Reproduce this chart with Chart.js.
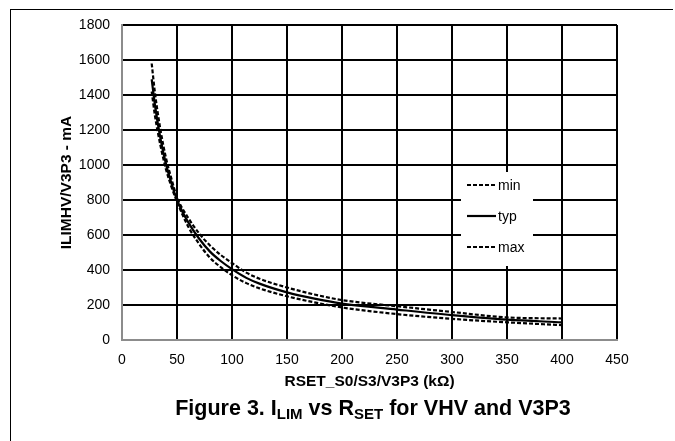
<!DOCTYPE html>
<html>
<head>
<meta charset="utf-8">
<script src="https://cdn.jsdelivr.net/npm/chart.js@4/dist/chart.umd.min.js"></script>
<style>
  body { margin: 0; background: #fff; }
  .wrap { position: relative; width: 675px; height: 441px; }
  .frame { position: absolute; left: 10px; top: 9px; right: 2px; bottom: 0; border-left: 1.5px solid #000; border-top: 1.5px solid #000; }
  .caption { position: absolute; left: 0; width: 746px; top: 396px; text-align: center; font: bold 21.5px "Liberation Sans", Arial, sans-serif; color: #000; }
  .caption sub { font-size: 15px; vertical-align: -4px; line-height: 0; }
  canvas { position: absolute; left: 0; top: 0; }
</style>
</head>
<body>
<div class="wrap">
  <div class="frame"></div>
  <canvas id="chart" width="675" height="441"></canvas>
  <div class="caption">Figure 3. I<sub>LIM</sub> vs R<sub>SET</sub> for VHV and V3P3</div>
</div>
<script>
// RSET (kOhm) and current limit (mA)
const rset = [27, 30, 35, 40, 45, 50, 60, 70, 80, 90, 100, 113, 125, 150, 175, 200, 250, 300, 350, 400];
const minVals = [1420, 1280, 1110, 975, 875, 790, 650, 550, 470, 415, 370, 325, 295, 250, 215, 186, 148, 121, 101, 85];
const typVals = [1490, 1340, 1150, 1005, 895, 800, 675, 580, 505, 450, 405, 355, 322, 272, 236, 208, 174, 142, 116, 101];
const maxVals = [1580, 1410, 1200, 1040, 920, 815, 700, 610, 540, 485, 440, 385, 350, 300, 260, 228, 193, 160, 129, 123];
const seriesNames = ['min', 'typ', 'max'];

const FONT = '"Liberation Sans", Arial, sans-serif';

function pts(ys) {
  return rset.map((x, i) => ({x: x, y: ys[i]}));
}

// legend box sitting inside the plot, like the excel one
const boxLegend = {
  id: 'boxLegend',
  afterDatasetsDraw(chart) {
    const ctx = chart.ctx;
    ctx.save();
    ctx.fillStyle = '#fff';
    ctx.fillRect(461, 172, 72, 94);
    const rows = [185, 216, 247];
    chart.data.datasets.forEach((ds, i) => {
      const y = rows[i];
      ctx.strokeStyle = '#000';
      ctx.lineWidth = ds.borderWidth;
      ctx.setLineDash(ds.borderDash || []);
      ctx.beginPath();
      ctx.moveTo(467, y);
      ctx.lineTo(496, y);
      ctx.stroke();
      ctx.setLineDash([]);
      ctx.fillStyle = '#000';
      ctx.font = '14px ' + FONT;
      ctx.textBaseline = 'middle';
      ctx.fillText(ds.label, 498, y + 1);
    });
    ctx.restore();
  }
};

const gridColor = c => (c.tick && c.tick.value === 0) ? '#8c8c8c' : '#000';
const plain = v => String(v);

new Chart(document.getElementById('chart'), {
  type: 'line',
  data: {
    datasets: [
      { label: seriesNames[0], data: pts(minVals), borderColor: '#000', borderWidth: 2.2, borderDash: [4, 2] },
      { label: seriesNames[1], data: pts(typVals), borderColor: '#000', borderWidth: 2.2 },
      { label: seriesNames[2], data: pts(maxVals), borderColor: '#000', borderWidth: 2.2, borderDash: [4, 2] }
    ]
  },
  options: {
    responsive: false,
    animation: false,
    layout: { padding: { left: 0, top: 25, right: 58, bottom: 0 } },
    elements: {
      point: { radius: 0 },
      line: { cubicInterpolationMode: 'monotone', fill: false }
    },
    scales: {
      x: {
        type: 'linear',
        min: 0,
        max: 450,
        afterFit: s => { s.height = 101; },
        ticks: { stepSize: 50, padding: 12, color: '#000', font: { family: FONT, size: 14 }, callback: plain },
        grid: { color: gridColor, lineWidth: 2, drawTicks: false },
        border: { color: '#8c8c8c', width: 2 },
        title: {
          display: true,
          text: 'RSET_S0/S3/V3P3 (kΩ)',
          color: '#000',
          font: { family: FONT, size: 15.5, weight: 'bold' },
          padding: { top: 0, bottom: 50 }
        }
      },
      y: {
        min: 0,
        max: 1800,
        afterFit: s => { s.width = 122; },
        ticks: { stepSize: 200, padding: 12, color: '#000', font: { family: FONT, size: 14 }, callback: plain },
        grid: { color: gridColor, lineWidth: 2, drawTicks: false },
        border: { color: '#8c8c8c', width: 2 },
        title: {
          display: true,
          text: 'ILIMHV/V3P3 - mA',
          color: '#000',
          font: { family: FONT, size: 15.5, weight: 'bold' },
          padding: { top: 57, bottom: 0 }
        }
      }
    },
    plugins: {
      legend: { display: false },
      tooltip: { enabled: false }
    }
  },
  plugins: [boxLegend]
});
</script>
</body>
</html>
